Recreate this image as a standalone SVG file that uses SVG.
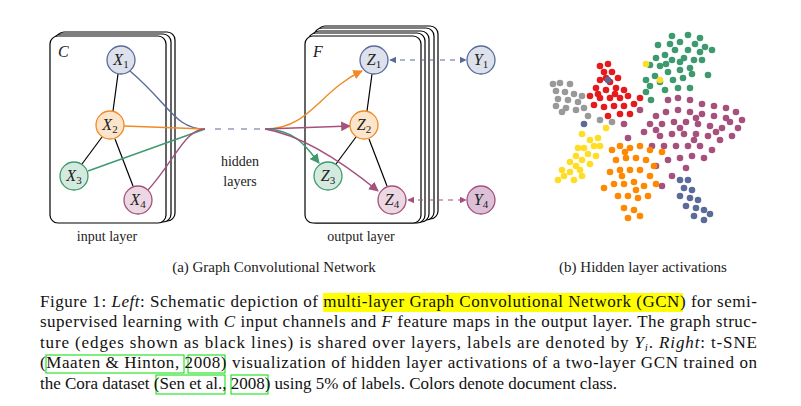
<svg xmlns="http://www.w3.org/2000/svg" width="801" height="406" viewBox="0 0 801 406">
<style>
.lay{fill:#fff;stroke:#000;stroke-width:1.2}
.t{fill:#222}
.n{stroke-width:1.3}
.e{stroke:#000;stroke-width:1.2;fill:none}
.c{fill:none;stroke-width:1.4}
.cap{font-size:17px;fill:#111}
.gb{fill:none;stroke:#0d0;stroke-width:1}
.g circle{r:3.3}
.sf{font-family:"Liberation Serif","Times New Roman","Noto Serif","DejaVu Serif",serif}
</style>
<defs>
<marker id="ao" viewBox="0 0 10 10" refX="9" refY="5" markerWidth="7" markerHeight="7" orient="auto"><path d="M0,0L10,5L0,10z" fill="#f08a24"/></marker>
<marker id="ap" viewBox="0 0 10 10" refX="9" refY="5" markerWidth="7" markerHeight="7" orient="auto"><path d="M0,0L10,5L0,10z" fill="#a5507d"/></marker>
<marker id="ag" viewBox="0 0 10 10" refX="9" refY="5" markerWidth="7" markerHeight="7" orient="auto"><path d="M0,0L10,5L0,10z" fill="#3e9a6e"/></marker>
<marker id="ab" viewBox="0 0 10 10" refX="9" refY="5" markerWidth="6" markerHeight="6" orient="auto-start-reverse"><path d="M0,0L10,5L0,10z" fill="#5a6a9a"/></marker>
<marker id="am" viewBox="0 0 10 10" refX="9" refY="5" markerWidth="6" markerHeight="6" orient="auto-start-reverse"><path d="M0,0L10,5L0,10z" fill="#a5507d"/></marker>
</defs>
<rect width="801" height="406" fill="#fff"/>
<g class="sf">
<g id="input-layer">
<rect class="lay" x="56" y="32" width="119" height="189" rx="8"/>
<rect class="lay" x="53" y="34" width="118" height="188" rx="8"/>
<rect class="lay" x="50" y="36" width="116" height="187" rx="8"/>
<text class="t" x="58" y="57" font-size="16" font-style="italic">C</text>
</g>
<g id="output-layer">
<rect class="lay" x="317" y="26" width="121" height="193" rx="8"/>
<rect class="lay" x="314" y="28" width="120" height="192" rx="8"/>
<rect class="lay" x="311" y="31" width="118" height="191" rx="8"/>
<rect class="lay" x="308" y="33" width="117" height="190" rx="8"/>
<rect class="lay" x="305" y="36" width="116" height="187" rx="8"/>
<text class="t" x="313" y="57" font-size="16" font-style="italic">F</text>
</g>
<g id="connectors">
<line class="e" x1="118" y1="74" x2="113" y2="111"/>
<line class="e" x1="102" y1="137" x2="82" y2="164"/>
<line class="e" x1="115" y1="139" x2="133" y2="186"/>
<line class="e" x1="372" y1="74" x2="367" y2="111"/>
<line class="e" x1="356" y1="137" x2="336" y2="164"/>
<line class="e" x1="369" y1="139" x2="387" y2="186"/>
<path class="c" stroke="#5a6a9a" d="M130,71 C170,105 175,129 205,129"/>
<path class="c" stroke="#f08a24" d="M124,126 L205,129"/>
<path class="c" stroke="#3e9a6e" d="M88,171 L205,129"/>
<path class="c" stroke="#a5507d" d="M148,190 C175,160 185,129 205,129"/>
<line x1="215" y1="129" x2="265" y2="129" stroke="#5a6a9a" stroke-width="1" stroke-dasharray="6,7"/>
<path class="c" stroke="#f08a24" d="M265,129 C310,129 320,90 362,71" marker-end="url(#ao)"/>
<path class="c" stroke="#a5507d" d="M265,129 L350,126" marker-end="url(#ap)"/>
<path class="c" stroke="#3e9a6e" d="M265,129 C295,130 305,145 319,163" marker-end="url(#ag)"/>
<path class="c" stroke="#a5507d" d="M265,129 C300,135 340,160 378,191" marker-end="url(#ap)"/>
<line x1="390" y1="60" x2="466" y2="60" stroke="#5a6a9a" stroke-width="1.2" stroke-dasharray="5,5" marker-start="url(#ab)" marker-end="url(#ab)"/>
<line x1="408" y1="200" x2="466" y2="200" stroke="#a5507d" stroke-width="1.2" stroke-dasharray="5,5" marker-start="url(#am)" marker-end="url(#am)"/>
</g>
<g id="X1"><circle class="n" cx="121" cy="60" r="14" fill="#dde1ec" stroke="#5a6a9a"/><text class="t" x="121" y="65" font-size="16" text-anchor="middle" font-style="italic">X<tspan font-size="11" dy="3" font-style="normal">1</tspan></text></g>
<g id="X2"><circle class="n" cx="110" cy="125" r="14" fill="#fde5cc" stroke="#f08a24"/><text class="t" x="110" y="130" font-size="16" text-anchor="middle" font-style="italic">X<tspan font-size="11" dy="3" font-style="normal">2</tspan></text></g>
<g id="X3"><circle class="n" cx="74" cy="176" r="14" fill="#d5eadf" stroke="#3e9a6e"/><text class="t" x="74" y="181" font-size="16" text-anchor="middle" font-style="italic">X<tspan font-size="11" dy="3" font-style="normal">3</tspan></text></g>
<g id="X4"><circle class="n" cx="138" cy="200" r="14" fill="#ecd8e3" stroke="#a5507d"/><text class="t" x="138" y="205" font-size="16" text-anchor="middle" font-style="italic">X<tspan font-size="11" dy="3" font-style="normal">4</tspan></text></g>
<g id="Z1"><circle class="n" cx="374" cy="60" r="14" fill="#dde1ec" stroke="#5a6a9a"/><text class="t" x="374" y="65" font-size="16" text-anchor="middle" font-style="italic">Z<tspan font-size="11" dy="3" font-style="normal">1</tspan></text></g>
<g id="Z2"><circle class="n" cx="364" cy="125" r="14" fill="#fde5cc" stroke="#f08a24"/><text class="t" x="364" y="130" font-size="16" text-anchor="middle" font-style="italic">Z<tspan font-size="11" dy="3" font-style="normal">2</tspan></text></g>
<g id="Z3"><circle class="n" cx="328" cy="176" r="14" fill="#d5eadf" stroke="#3e9a6e"/><text class="t" x="328" y="181" font-size="16" text-anchor="middle" font-style="italic">Z<tspan font-size="11" dy="3" font-style="normal">3</tspan></text></g>
<g id="Z4"><circle class="n" cx="392" cy="200" r="14" fill="#ecd8e3" stroke="#a5507d"/><text class="t" x="392" y="205" font-size="16" text-anchor="middle" font-style="italic">Z<tspan font-size="11" dy="3" font-style="normal">4</tspan></text></g>
<g id="Y1"><circle class="n" cx="481" cy="60" r="14" fill="#dde1ec" stroke="#5a6a9a"/><text class="t" x="481" y="65" font-size="16" text-anchor="middle" font-style="italic">Y<tspan font-size="11" dy="3" font-style="normal">1</tspan></text></g>
<g id="Y4"><circle class="n" cx="481" cy="200" r="14" fill="#dcc0d8" stroke="#a5507d"/><text class="t" x="481" y="205" font-size="16" text-anchor="middle" font-style="italic">Y<tspan font-size="11" dy="3" font-style="normal">4</tspan></text></g>
<text class="t" x="240" y="166" font-size="14" text-anchor="middle">hidden</text>
<text class="t" x="240" y="186" font-size="14" text-anchor="middle">layers</text>
<text class="t" x="107" y="241" font-size="14" text-anchor="middle">input layer</text>
<text class="t" x="361" y="241" font-size="14" text-anchor="middle">output layer</text>
<text class="t" x="274" y="272" font-size="15" text-anchor="middle">(a) Graph Convolutional Network</text>
<text class="t" x="643" y="272" font-size="15" text-anchor="middle">(b) Hidden layer activations</text>
</g>
<g id="scatter" class="g">
<g fill="#3e9a6e">
<circle cx="672" cy="36"/><circle cx="688" cy="35"/><circle cx="680" cy="42"/><circle cx="695" cy="44"/><circle cx="705" cy="47"/><circle cx="712" cy="50"/><circle cx="700" cy="52"/><circle cx="688" cy="50"/><circle cx="675" cy="50"/><circle cx="665" cy="55"/><circle cx="656" cy="58"/><circle cx="650" cy="65"/><circle cx="660" cy="66"/><circle cx="672" cy="60"/><circle cx="684" cy="58"/><circle cx="694" cy="60"/><circle cx="690" cy="68"/><circle cx="680" cy="70"/><circle cx="668" cy="72"/><circle cx="655" cy="76"/><circle cx="646" cy="80"/><circle cx="660" cy="82"/><circle cx="673" cy="80"/><circle cx="683" cy="78"/><circle cx="665" cy="90"/><circle cx="678" cy="88"/><circle cx="646" cy="92"/><circle cx="700" cy="38"/><circle cx="658" cy="45"/><circle cx="708" cy="75"/><circle cx="690" cy="88"/><circle cx="651" cy="100"/><circle cx="702" cy="60"/><circle cx="680" cy="62"/><circle cx="666" cy="64"/><circle cx="692" cy="74"/><circle cx="670" cy="44"/><circle cx="650" cy="86"/>
</g>
<g fill="#e41a1c">
<circle cx="600" cy="66"/><circle cx="608" cy="64"/><circle cx="604" cy="72"/><circle cx="612" cy="72"/><circle cx="618" cy="78"/><circle cx="610" cy="82"/><circle cx="600" cy="80"/><circle cx="596" cy="88"/><circle cx="606" cy="90"/><circle cx="616" cy="88"/><circle cx="624" cy="90"/><circle cx="628" cy="96"/><circle cx="620" cy="98"/><circle cx="610" cy="98"/><circle cx="600" cy="98"/><circle cx="594" cy="105"/><circle cx="604" cy="107"/><circle cx="614" cy="106"/><circle cx="624" cy="106"/><circle cx="634" cy="104"/><circle cx="620" cy="114"/><circle cx="630" cy="114"/><circle cx="640" cy="98"/><circle cx="608" cy="116"/><circle cx="590" cy="96"/><circle cx="606" cy="78"/><circle cx="615" cy="94"/><circle cx="598" cy="94"/>
</g>
<g fill="#999">
<circle cx="553" cy="84"/><circle cx="560" cy="83"/><circle cx="570" cy="84"/><circle cx="556" cy="91"/><circle cx="565" cy="92"/><circle cx="574" cy="94"/><circle cx="558" cy="99"/><circle cx="568" cy="100"/><circle cx="578" cy="102"/><circle cx="556" cy="106"/><circle cx="566" cy="108"/><circle cx="576" cy="110"/><circle cx="584" cy="108"/><circle cx="588" cy="116"/><circle cx="600" cy="120"/><circle cx="612" cy="122"/><circle cx="582" cy="96"/><circle cx="562" cy="112"/>
</g>
<g fill="#a5507d">
<circle cx="668" cy="100"/><circle cx="678" cy="98"/><circle cx="690" cy="100"/><circle cx="702" cy="104"/><circle cx="714" cy="106"/><circle cx="726" cy="108"/><circle cx="736" cy="112"/><circle cx="742" cy="120"/><circle cx="738" cy="128"/><circle cx="726" cy="118"/><circle cx="714" cy="116"/><circle cx="702" cy="114"/><circle cx="690" cy="112"/><circle cx="678" cy="110"/><circle cx="666" cy="112"/><circle cx="656" cy="116"/><circle cx="650" cy="124"/><circle cx="662" cy="124"/><circle cx="674" cy="122"/><circle cx="686" cy="122"/><circle cx="698" cy="124"/><circle cx="710" cy="126"/><circle cx="722" cy="128"/><circle cx="732" cy="136"/><circle cx="720" cy="140"/><circle cx="708" cy="136"/><circle cx="696" cy="134"/><circle cx="684" cy="134"/><circle cx="672" cy="134"/><circle cx="660" cy="136"/><circle cx="652" cy="146"/><circle cx="664" cy="146"/><circle cx="676" cy="146"/><circle cx="688" cy="146"/><circle cx="700" cy="146"/><circle cx="712" cy="150"/><circle cx="704" cy="158"/><circle cx="692" cy="156"/><circle cx="680" cy="158"/><circle cx="668" cy="160"/><circle cx="686" cy="168"/><circle cx="672" cy="176"/><circle cx="640" cy="110"/><circle cx="644" cy="132"/><circle cx="656" cy="166"/><circle cx="662" cy="186"/><circle cx="624" cy="124"/><circle cx="628" cy="138"/><circle cx="696" cy="118"/><circle cx="716" cy="132"/><circle cx="680" cy="128"/><circle cx="656" cy="130"/><circle cx="730" cy="122"/><circle cx="694" cy="140"/>
</g>
<g fill="#ffdd22">
<circle cx="558" cy="180"/><circle cx="564" cy="176"/><circle cx="570" cy="172"/><circle cx="562" cy="170"/><circle cx="576" cy="166"/><circle cx="570" cy="162"/><circle cx="582" cy="160"/><circle cx="576" cy="156"/><circle cx="588" cy="154"/><circle cx="584" cy="148"/><circle cx="594" cy="146"/><circle cx="590" cy="140"/><circle cx="598" cy="138"/><circle cx="580" cy="170"/><circle cx="590" cy="164"/><circle cx="596" cy="156"/><circle cx="574" cy="180"/><circle cx="582" cy="176"/><circle cx="600" cy="146"/><circle cx="582" cy="134"/><circle cx="646" cy="64"/><circle cx="660" cy="80"/><circle cx="606" cy="128"/><circle cx="578" cy="148"/>
</g>
<g fill="#ff8800">
<circle cx="612" cy="150"/><circle cx="620" cy="146"/><circle cx="630" cy="148"/><circle cx="640" cy="146"/><circle cx="650" cy="150"/><circle cx="616" cy="160"/><circle cx="626" cy="158"/><circle cx="636" cy="158"/><circle cx="646" cy="160"/><circle cx="654" cy="166"/><circle cx="610" cy="172"/><circle cx="620" cy="170"/><circle cx="630" cy="170"/><circle cx="640" cy="170"/><circle cx="650" cy="176"/><circle cx="614" cy="184"/><circle cx="624" cy="184"/><circle cx="634" cy="182"/><circle cx="644" cy="186"/><circle cx="656" cy="184"/><circle cx="618" cy="196"/><circle cx="628" cy="196"/><circle cx="638" cy="198"/><circle cx="648" cy="196"/><circle cx="624" cy="208"/><circle cx="634" cy="210"/><circle cx="628" cy="218"/><circle cx="640" cy="216"/><circle cx="604" cy="188"/><circle cx="662" cy="152"/><circle cx="625" cy="152"/><circle cx="636" cy="190"/><circle cx="622" cy="176"/>
</g>
<g fill="#5a6a9a">
<circle cx="680" cy="180"/><circle cx="688" cy="180"/><circle cx="684" cy="188"/><circle cx="692" cy="190"/><circle cx="680" cy="196"/><circle cx="690" cy="198"/><circle cx="698" cy="200"/><circle cx="686" cy="206"/><circle cx="696" cy="208"/><circle cx="704" cy="210"/><circle cx="694" cy="216"/><circle cx="704" cy="220"/><circle cx="710" cy="214"/><circle cx="608" cy="80"/><circle cx="584" cy="124"/>
</g>
</g>
<rect x="323" y="293" width="360" height="19" fill="#ffff00"/>
<rect class="gb" x="46" y="355" width="138" height="18"/>
<rect class="gb" x="188" y="355" width="37" height="18"/>
<rect class="gb" x="156" y="375" width="69" height="19"/>
<rect class="gb" x="231" y="375" width="37" height="19"/>
<g class="sf">
<text class="cap" x="40" y="307" textLength="717" lengthAdjust="spacing">Figure 1: <tspan font-style="italic">Left</tspan>: Schematic depiction of multi-layer Graph Convolutional Network (GCN) for semi-</text>
<text class="cap" x="40" y="327" textLength="717" lengthAdjust="spacing">supervised learning with <tspan font-style="italic">C</tspan> input channels and <tspan font-style="italic">F</tspan> feature maps in the output layer. The graph struc-</text>
<text class="cap" x="40" y="348" textLength="717" lengthAdjust="spacing">ture (edges shown as black lines) is shared over layers, labels are denoted by <tspan font-style="italic">Y</tspan><tspan font-style="italic" font-size="11" dy="3">i</tspan><tspan dy="-3">. </tspan><tspan font-style="italic">Right</tspan>: t-SNE</text>
<text class="cap" x="40" y="368" textLength="717" lengthAdjust="spacing">(Maaten &amp; Hinton, 2008) visualization of hidden layer activations of a two-layer GCN trained on</text>
<text class="cap" x="40" y="389">the Cora dataset (Sen et al., 2008) using 5% of labels. Colors denote document class.</text>
</g>
</svg>
